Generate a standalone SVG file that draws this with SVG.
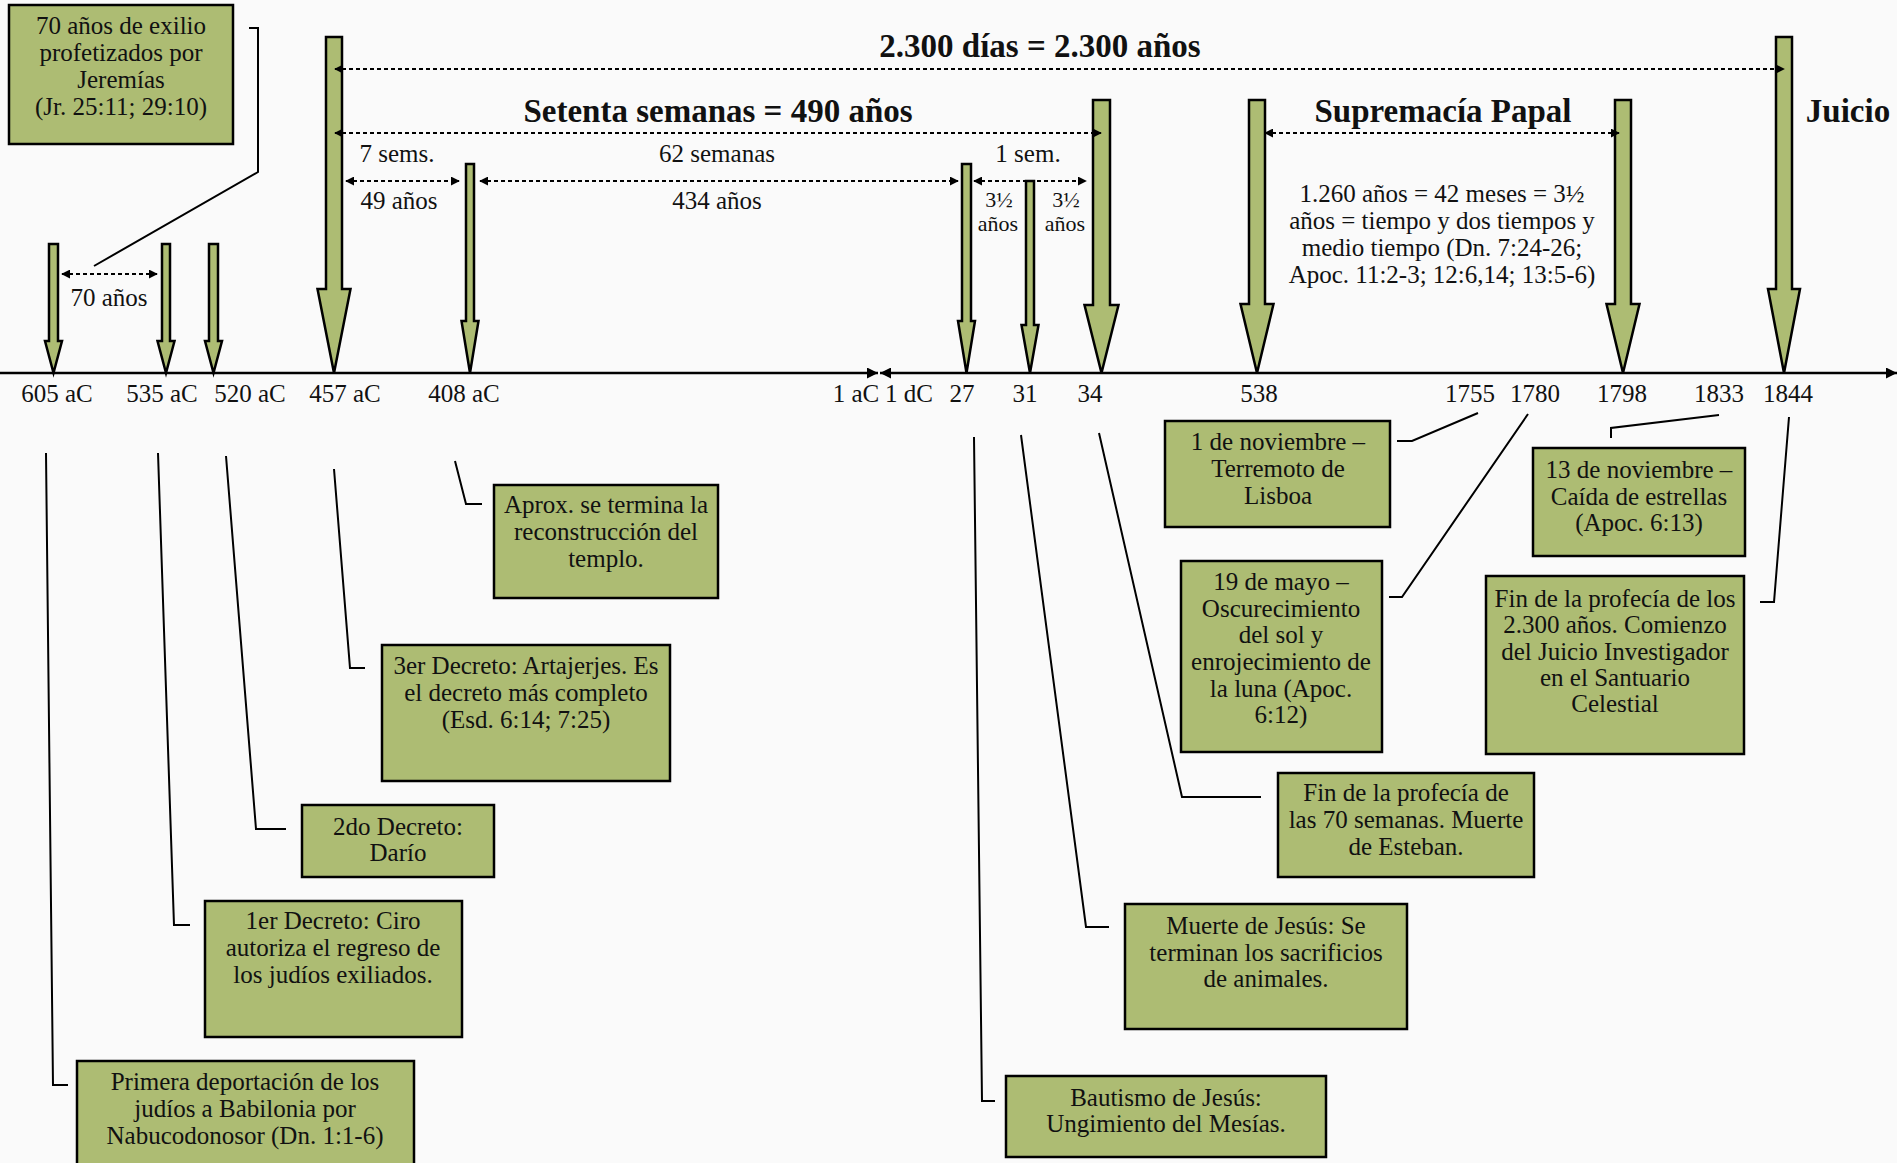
<svg xmlns="http://www.w3.org/2000/svg" width="1897" height="1163" viewBox="0 0 1897 1163">
<defs>
<style>
.t{font-family:"Liberation Serif","Times New Roman",serif;font-size:25px;fill:#111;text-anchor:middle}
.s{font-family:"Liberation Serif","Times New Roman",serif;font-size:22px;fill:#111;text-anchor:middle}
.b{font-family:"Liberation Serif","Times New Roman",serif;font-size:33px;font-weight:bold;fill:#111;text-anchor:middle}
.box{fill:#adbc73;stroke:#000;stroke-width:2.5}
.arr{fill:#adbc73;stroke:#000;stroke-width:2.5;stroke-linejoin:miter}
.con{fill:none;stroke:#000;stroke-width:2}
.dot{fill:none;stroke:#000;stroke-width:2;stroke-dasharray:4 3;marker-start:url(#ah);marker-end:url(#ah)}
.axis{fill:none;stroke:#000;stroke-width:2.5}
</style>
<marker id="ah" viewBox="0 0 10 10" refX="9" refY="5" markerWidth="9" markerHeight="9" markerUnits="userSpaceOnUse" orient="auto-start-reverse"><path d="M0,0 L10,5 L0,10 z" fill="#000"/></marker>
<marker id="ax" viewBox="0 0 10 10" refX="10" refY="5" markerWidth="11" markerHeight="11" markerUnits="userSpaceOnUse" orient="auto-start-reverse"><path d="M0,0 L10,5 L0,10 z" fill="#000"/></marker>
</defs>
<rect x="0" y="0" width="1897" height="1163" fill="#fafafa"/>

<g id="arrows">
<polygon id="a605" class="arr" points="49,244 58,244 58,341 62,341 53.5,373 45,341 49,341"/>
<polygon id="a535" class="arr" points="162,244 170,244 170,341 174.5,341 166,373 157.5,341 162,341"/>
<polygon id="a520" class="arr" points="209,244 218,244 218,341 222,341 213.5,373 205,341 209,341"/>
<polygon id="a457" class="arr" points="326,37 342,37 342,289 350.5,289 334,373 317.5,289 326,289"/>
<polygon id="a408" class="arr" points="466,164 474,164 474,321 478.5,321 470,373 461.5,321 466,321"/>
<polygon id="a27" class="arr" points="962,164 971,164 971,321 975,321 966.5,373 958,321 962,321"/>
<polygon id="a31" class="arr" points="1026,181 1034,181 1034,325 1038.5,325 1030,373 1021.5,325 1026,325"/>
<polygon id="a34" class="arr" points="1093,100 1110,100 1110,305 1118.5,305 1101.5,373 1084.5,305 1093,305"/>
<polygon id="a538" class="arr" points="1249,100 1265,100 1265,304 1273.5,304 1257,373 1240.5,304 1249,304"/>
<polygon id="a1798" class="arr" points="1615,100 1631,100 1631,304 1639.5,304 1623,373 1606.5,304 1615,304"/>
<polygon id="a1844" class="arr" points="1776,37 1792,37 1792,289 1800,289 1784,373 1768,289 1776,289"/>
</g>

<g id="connectors">
<line class="axis" x1="0" y1="373" x2="878" y2="373" marker-end="url(#ax)"/>
<line class="axis" x1="880" y1="373" x2="1897" y2="373" marker-start="url(#ax)" marker-end="url(#ax)"/>
<line class="dot" x1="335" y1="69" x2="1784" y2="69"/>
<line class="dot" x1="335" y1="133" x2="1101" y2="133"/>
<line class="dot" x1="1265" y1="133" x2="1619" y2="133"/>
<line class="dot" x1="346" y1="181" x2="459" y2="181"/>
<line class="dot" x1="480" y1="181" x2="958" y2="181"/>
<line class="dot" x1="974" y1="181" x2="1086" y2="181"/>
<line class="dot" x1="62" y1="274" x2="157" y2="274"/>
<polyline class="con" points="249,28 258,28 258,172 94,266"/>
<polyline class="con" points="482,504 466,504 455,461"/>
<polyline class="con" points="365,668 350,668 334,469"/>
<polyline class="con" points="286,829 256,829 226,456"/>
<polyline class="con" points="190,925 174,925 158,453"/>
<polyline class="con" points="68,1085 53,1085 46,453"/>
<polyline class="con" points="1397,441 1412,441 1478,413"/>
<polyline class="con" points="1389,597 1402,597 1528,414"/>
<polyline class="con" points="1261,797 1182,797 1099,433"/>
<polyline class="con" points="1109,927 1086,927 1021,435"/>
<polyline class="con" points="995,1101 982,1101 974,437"/>
<polyline class="con" points="1611,438 1611,428 1719,415"/>
<polyline class="con" points="1760,602 1774,602 1789,417"/>
</g>

<g id="titles">
<text class="b" x="1040" y="57">2.300 días = 2.300 años</text>
<text class="b" x="718" y="122">Setenta semanas = 490 años</text>
<text class="b" x="1443" y="122">Supremacía Papal</text>
<text class="b" x="1848" y="122">Juicio</text>
</g>

<g id="intervals">
<text class="t" x="109" y="306">70 años</text>
<text class="t" x="397" y="162">7 sems.</text>
<text class="t" x="399" y="209">49 años</text>
<text class="t" x="717" y="162">62 semanas</text>
<text class="t" x="717" y="209">434 años</text>
<text class="t" x="1028" y="162">1 sem.</text>
<text class="s" x="999" y="207">3½</text>
<text class="s" x="998" y="231">años</text>
<text class="s" x="1066" y="207">3½</text>
<text class="s" x="1065" y="231">años</text>
<text class="t" x="1442"><tspan x="1442" y="202">1.260 años = 42 meses = 3½</tspan><tspan x="1442" y="229">años = tiempo y dos tiempos y</tspan><tspan x="1442" y="256">medio tiempo (Dn. 7:24-26;</tspan><tspan x="1442" y="283">Apoc. 11:2-3; 12:6,14; 13:5-6)</tspan></text>
</g>

<g id="years">
<text class="t" x="57" y="402">605 aC</text>
<text class="t" x="162" y="402">535 aC</text>
<text class="t" x="250" y="402">520 aC</text>
<text class="t" x="345" y="402">457 aC</text>
<text class="t" x="464" y="402">408 aC</text>
<text class="t" x="856" y="402">1 aC</text>
<text class="t" x="909" y="402">1 dC</text>
<text class="t" x="962" y="402">27</text>
<text class="t" x="1025" y="402">31</text>
<text class="t" x="1090" y="402">34</text>
<text class="t" x="1259" y="402">538</text>
<text class="t" x="1470" y="402">1755</text>
<text class="t" x="1535" y="402">1780</text>
<text class="t" x="1622" y="402">1798</text>
<text class="t" x="1719" y="402">1833</text>
<text class="t" x="1788" y="402">1844</text>
</g>

<g id="n-jeremias">
<rect class="box" x="9" y="5" width="224" height="139"/>
<text class="t"><tspan x="121" y="34">70 años de exilio</tspan><tspan x="121" y="61">profetizados por</tspan><tspan x="121" y="88">Jeremías</tspan><tspan x="121" y="115">(Jr. 25:11; 29:10)</tspan></text>
</g>
<g id="n-aprox">
<rect class="box" x="494" y="485" width="224" height="113"/>
<text class="t"><tspan x="606" y="513">Aprox. se termina la</tspan><tspan x="606" y="540">reconstrucción del</tspan><tspan x="606" y="567">templo.</tspan></text>
</g>
<g id="n-decreto3">
<rect class="box" x="382" y="645" width="288" height="136"/>
<text class="t"><tspan x="526" y="674">3er Decreto: Artajerjes. Es</tspan><tspan x="526" y="701">el decreto más completo</tspan><tspan x="526" y="728">(Esd. 6:14; 7:25)</tspan></text>
</g>
<g id="n-decreto2">
<rect class="box" x="302" y="805" width="192" height="72"/>
<text class="t"><tspan x="398" y="835">2do Decreto:</tspan><tspan x="398" y="861">Darío</tspan></text>
</g>
<g id="n-decreto1">
<rect class="box" x="205" y="901" width="257" height="136"/>
<text class="t"><tspan x="333" y="929">1er Decreto: Ciro</tspan><tspan x="333" y="956">autoriza el regreso de</tspan><tspan x="333" y="983">los judíos exiliados.</tspan></text>
</g>
<g id="n-deportacion">
<rect class="box" x="77" y="1061" width="337" height="115"/>
<text class="t"><tspan x="245" y="1090">Primera deportación de los</tspan><tspan x="245" y="1117">judíos a Babilonia por</tspan><tspan x="245" y="1144">Nabucodonosor (Dn. 1:1-6)</tspan></text>
</g>
<g id="n-bautismo">
<rect class="box" x="1006" y="1076" width="320" height="81"/>
<text class="t"><tspan x="1166" y="1106">Bautismo de Jesús:</tspan><tspan x="1166" y="1132">Ungimiento del Mesías.</tspan></text>
</g>
<g id="n-muerte">
<rect class="box" x="1125" y="904" width="282" height="125"/>
<text class="t"><tspan x="1266" y="934">Muerte de Jesús: Se</tspan><tspan x="1266" y="961">terminan los sacrificios</tspan><tspan x="1266" y="987">de animales.</tspan></text>
</g>
<g id="n-fin70">
<rect class="box" x="1278" y="773" width="256" height="104"/>
<text class="t"><tspan x="1406" y="801">Fin de la profecía de</tspan><tspan x="1406" y="828">las 70 semanas. Muerte</tspan><tspan x="1406" y="855">de Esteban.</tspan></text>
</g>
<g id="n-lisboa">
<rect class="box" x="1165" y="421" width="225" height="106"/>
<text class="t"><tspan x="1278" y="450">1 de noviembre –</tspan><tspan x="1278" y="477">Terremoto de</tspan><tspan x="1278" y="504">Lisboa</tspan></text>
</g>
<g id="n-oscurecimiento">
<rect class="box" x="1181" y="561" width="201" height="191"/>
<text class="t"><tspan x="1281" y="590">19 de mayo –</tspan><tspan x="1281" y="617">Oscurecimiento</tspan><tspan x="1281" y="643">del sol y</tspan><tspan x="1281" y="670">enrojecimiento de</tspan><tspan x="1281" y="697">la luna (Apoc.</tspan><tspan x="1281" y="723">6:12)</tspan></text>
</g>
<g id="n-estrellas">
<rect class="box" x="1533" y="448" width="212" height="108"/>
<text class="t"><tspan x="1639" y="478">13 de noviembre –</tspan><tspan x="1639" y="505">Caída de estrellas</tspan><tspan x="1639" y="531">(Apoc. 6:13)</tspan></text>
</g>
<g id="n-fin2300">
<rect class="box" x="1486" y="576" width="258" height="178"/>
<text class="t"><tspan x="1615" y="607">Fin de la profecía de los</tspan><tspan x="1615" y="633">2.300 años. Comienzo</tspan><tspan x="1615" y="660">del Juicio Investigador</tspan><tspan x="1615" y="686">en el Santuario</tspan><tspan x="1615" y="712">Celestial</tspan></text>
</g>
</svg>
